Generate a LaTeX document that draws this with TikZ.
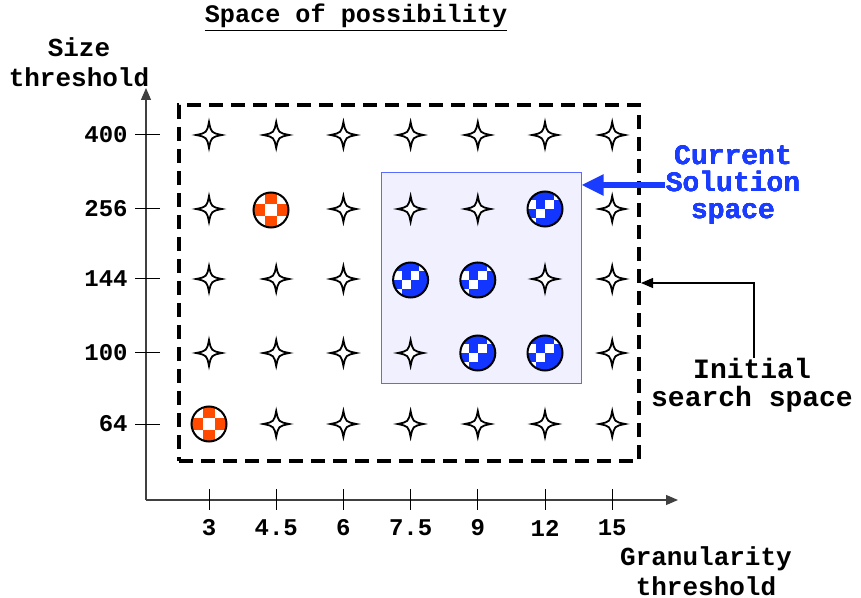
\documentclass[tikz,border=0pt]{standalone}
\usepackage{fontspec}
\setmainfont{Liberation Mono}
\usetikzlibrary{arrows.meta,positioning,calc}
\definecolor{spcblue}{HTML}{1A3CFF}
\definecolor{spcball}{HTML}{1236FF}
\definecolor{spcorange}{HTML}{FF4A00}
\definecolor{spcedge}{HTML}{5A6CFF}
\definecolor{spcfill}{HTML}{F0F0FE}
\tikzset{
  txt/.style={font=\bfseries\fontsize{13}{15}\selectfont, align=center, inner sep=0pt},
  num/.style={font=\bfseries\fontsize{12}{14}\selectfont, inner sep=0pt},
  big/.style={font=\bfseries\fontsize{14}{14}\selectfont, align=center, inner sep=0pt},
  axis/.style={-{Triangle[length=6pt,width=5pt]}, line width=0.6pt, color=black!75},
  tck/.style={line width=0.5pt},
  srch/.style={draw, line width=2pt, dash pattern=on 7pt off 4pt, minimum width=230pt, minimum height=178pt, inner sep=0pt},
  sol/.style={draw=spcedge, fill=spcfill, line width=0.5pt, minimum width=100pt, minimum height=105pt, inner sep=0pt},
  bluearr/.style={-{Triangle[length=11pt,width=10pt]}, line width=2.6pt, color=spcblue},
  thinarr/.style={-{Triangle[length=6pt,width=5pt]}, line width=0.6pt},
  spark/.pic={\draw[line width=0.9pt, fill=white] (0,13) .. controls (2.2,2.2) .. (13,0) .. controls (2.2,-2.2) .. (0,-13) .. controls (-2.2,-2.2) .. (-13,0) .. controls (-2.2,2.2) .. cycle;},
}
% checkered ball: x, y, colour, cell size, filled cells
\newcommand{\chkball}[5]{%
  \begin{scope}
    \clip (#1,#2) circle[radius=8.75pt];
    \fill[white] (#1,#2) circle[radius=8.75pt];
    \foreach \i/\j in {#5}
      \fill[#3] ($(#1,#2)+(-17.5+\i*#4,-17.5+\j*#4)$) rectangle ++(#4,#4);
  \end{scope}
  \draw[line width=1pt] (#1,#2) circle[radius=8.75pt];
}

\begin{document}
\begin{tikzpicture}[x=0.5pt,y=-0.5pt]
  \useasboundingbox (0,0) rectangle (861,598);
  % axes
  \coordinate (org) at (146,500);
  \coordinate (ytip) at (146,88);
  \coordinate (xtip) at (678,500);
  \draw[axis] (org) -- (ytip);
  \draw[axis] (org) -- (xtip);
  \foreach \y/\v in {135/400,209/256,279/144,353/100,424/64} {
    \draw[tck] (135,\y) -- (160,\y);
    \node[num, anchor=east] at (128,\y) {\v};
  }
  \foreach \v [count=\i from 0] in {3,4.5,6,7.5,9,12,15} {
    \draw[tck] (209+67.2*\i,489) -- (209+67.2*\i,510);
    \node[num] at (209+67.2*\i,528) {\v};
  }
  \node[txt, font=\bfseries\fontsize{12.6}{15}\selectfont] (title) at (356,18) {\underline{Space of possibility}};
  \node[txt] (ylbl) at (79,62) {Size\\threshold};
  \node[txt] (xlbl) at (706,571) {Granularity\\threshold};
  % spaces
  \node[srch] (space) at (409,283) {};
  \node[sol] (solbox) at (481,278) {};
  % grid of settings
  \foreach \y [count=\r from 0] in {135,209,279,353,424}
    \foreach \c in {0,...,6} {
      \pgfmathtruncatemacro{\key}{10*\r+\c}
      \ifnum\key=11 \else\ifnum\key=40 \else\ifnum\key=15 \else
      \ifnum\key=23 \else\ifnum\key=24 \else\ifnum\key=34 \else\ifnum\key=35 \else
        \pic at (209+67.2*\c,\y) {spark};
      \fi\fi\fi\fi\fi\fi\fi
    }
  \chkball{271}{210}{spcorange}{11.67}{1/0,0/1,2/1,1/2}
  \chkball{209}{424}{spcorange}{11.67}{1/0,0/1,2/1,1/2}
  \foreach \bx/\by in {545/209,410.6/280,477.8/280,477.8/353,545/353}
    \chkball{\bx}{\by}{spcball}{8.75}{0/0,2/0,1/1,3/1,0/2,2/2,1/3,3/3,1/0,3/2,2/3}
  % labels with arrows
  \node[big, text=spcblue, font=\bfseries\fontsize{14}{13.3}\selectfont] (curlbl) at (733,185) {Current\\Solution\\space};
  \draw[bluearr] (curlbl.west) -- (curlbl.west -| solbox.east);
  \node[big, font=\bfseries\fontsize{14}{14}\selectfont] (initlbl) at (752,385) {Initial\\search space};
  \draw[thinarr] (initlbl.north -| 754,0) |- (space.east);
\end{tikzpicture}
\end{document}
